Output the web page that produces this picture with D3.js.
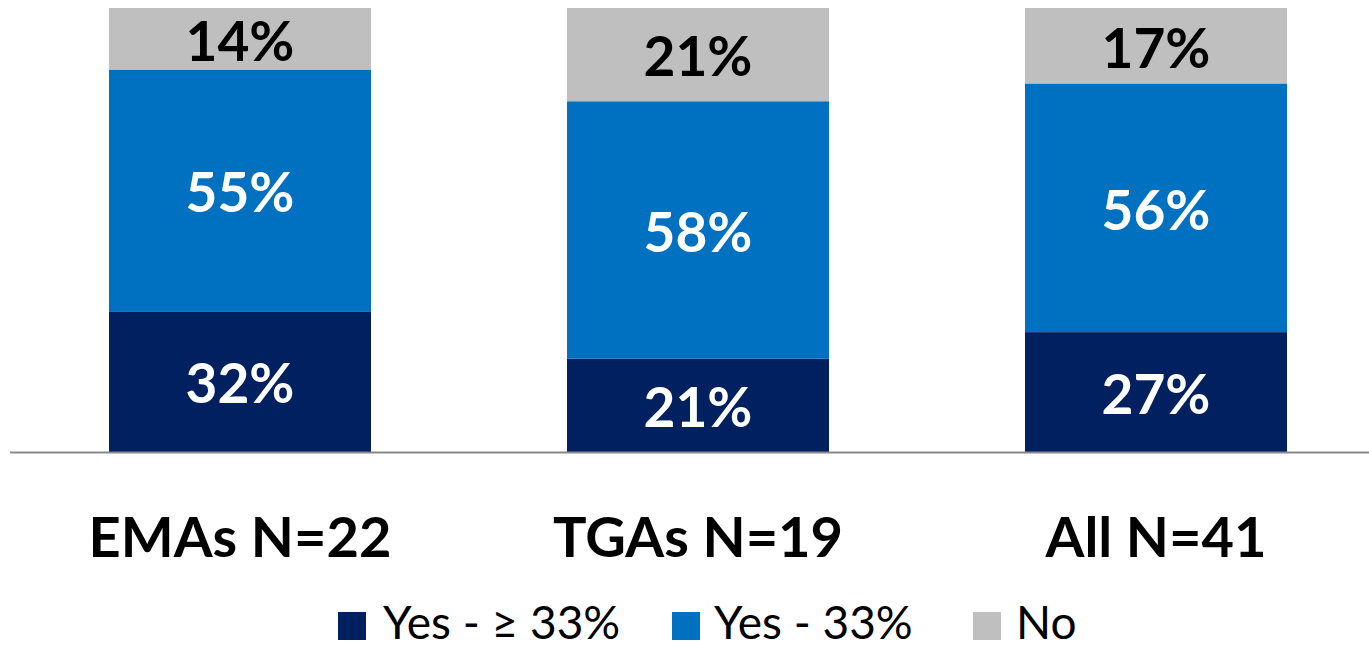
<!DOCTYPE html>
<html>
<head>
<meta charset="utf-8">
<script src="https://cdn.jsdelivr.net/npm/d3@7"></script>
<style>
  html, body { margin: 0; padding: 0; background: #fff; overflow: hidden; }
  svg { display: block; }
  text { font-family: Lato, "Open Sans", sans-serif; }
</style>
</head>
<body>
<svg id="chart" width="1369" height="649"></svg>
<script>
const categories = ["EMAs N=22", "TGAs N=19", "All N=41"];
const seriesNames = ["Yes - \u2265 33%", "Yes - 33%", "No"];
const yesAtLeast33 = [32, 21, 27];
const yes33 = [55, 58, 56];
const no = [14, 21, 17];
const seriesValues = [yesAtLeast33, yes33, no];
const colors = ["#002060", "#0070C0", "#BFBFBF"];
const labelColors = ["#ffffff", "#ffffff", "#000000"];

const svg = d3.select("#chart");

const x = d3.scaleBand().domain(categories).range([11, 1385]).paddingInner(0.428).paddingOuter(0.214);
const y = d3.scaleLinear().domain([0, 1]).range([452, 8]);

const rows = categories.map((c, i) => {
  const r = { cat: c };
  seriesNames.forEach((s, j) => r[s] = seriesValues[j][i]);
  return r;
});
const stacked = d3.stack().keys(seriesNames).offset(d3.stackOffsetExpand)(rows);

const labelSize = 55;
const g = svg.append("g");
stacked.forEach((layer, j) => {
  const lg = g.append("g");
  lg.selectAll("rect").data(layer).enter().append("rect")
    .attr("x", d => x(d.data.cat))
    .attr("width", x.bandwidth())
    .attr("y", d => y(d[1]))
    .attr("height", d => y(d[0]) - y(d[1]))
    .attr("fill", colors[j]);
  lg.selectAll("text").data(layer).enter().append("text")
    .attr("x", d => x(d.data.cat) + x.bandwidth() / 2)
    .attr("y", d => (y(d[0]) + y(d[1])) / 2 + labelSize * 0.36 + 2)
    .attr("text-anchor", "middle")
    .attr("font-size", labelSize)
    .attr("font-weight", "bold")
    .attr("fill", labelColors[j])
    .text(d => d.data[seriesNames[j]] + "%");
});

const xAxis = d3.axisBottom(x).tickSize(0).tickPadding(0);
const ax = svg.append("g").attr("transform", "translate(0,452.5)").call(xAxis);
ax.select(".domain").attr("d", "M10,0H1369").attr("stroke", "#898989").attr("stroke-width", 2);
ax.selectAll(".tick text")
  .attr("y", 104.5)
  .attr("dy", 0)
  .attr("font-size", 56)
  .attr("font-weight", "bold")
  .attr("fill", "#000")
  .style("font-family", "Lato, 'Open Sans', sans-serif");

const legendX = [338, 672, 973];
const textX = [383, 714, 1016];
const leg = svg.append("g");
seriesNames.forEach((s, j) => {
  leg.append("rect")
    .attr("x", legendX[j]).attr("y", 612)
    .attr("width", 28).attr("height", 28)
    .attr("fill", colors[j]);
  leg.append("text")
    .attr("x", textX[j]).attr("y", 639)
    .attr("font-size", 46)
    .attr("fill", "#000")
    .text(s);
});
</script>
</body>
</html>
